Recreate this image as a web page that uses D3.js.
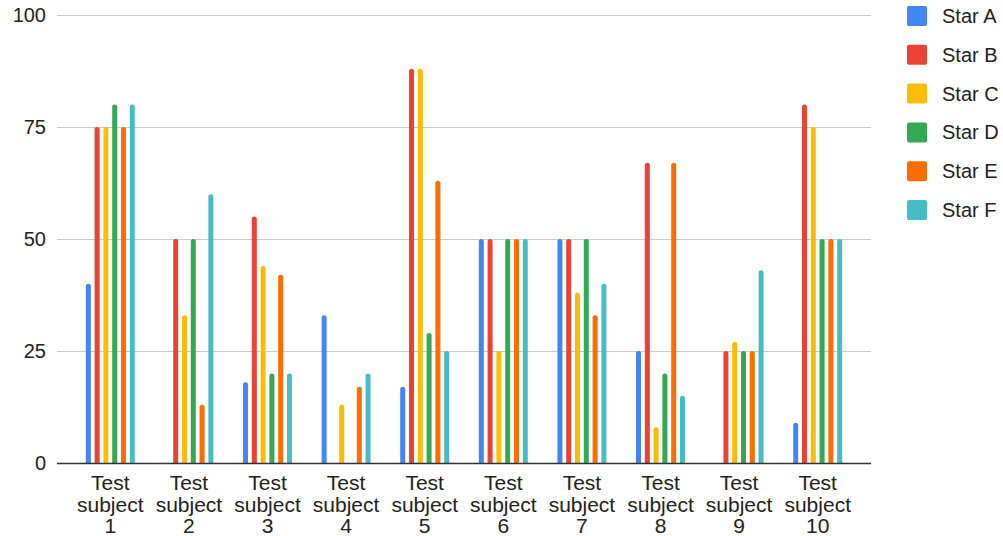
<!DOCTYPE html>
<html>
<head>
<meta charset="utf-8">
<script src="https://cdn.jsdelivr.net/npm/d3@7"></script>
<style>
  body { margin: 0; background: #fff; }
  text { font-family: Arial, "Liberation Sans", sans-serif; fill: #222; }
</style>
</head>
<body>
<div id="chart"></div>
<script>
const SUBJECTS = ['1', '2', '3', '4', '5', '6', '7', '8', '9', '10'];
const SERIES = ['Star A', 'Star B', 'Star C', 'Star D', 'Star E', 'Star F'];
const COLORS = ['#4285F4', '#EA4335', '#FBBC04', '#34A853', '#FF6D01', '#46BDC6'];
const Y_TICKS = [0, 25, 50, 75, 100];

// one array per star, one value per test subject
const STAR_A = [40, 0, 18, 33, 17, 50, 50, 25, 0, 9];
const STAR_B = [75, 50, 55, 0, 88, 50, 50, 67, 25, 80];
const STAR_C = [75, 33, 44, 13, 88, 25, 38, 8, 27, 75];
const STAR_D = [80, 50, 20, 0, 29, 50, 50, 20, 25, 50];
const STAR_E = [75, 13, 42, 17, 63, 50, 33, 67, 25, 50];
const STAR_F = [80, 60, 20, 20, 25, 50, 40, 15, 43, 50];
const VALUES = [STAR_A, STAR_B, STAR_C, STAR_D, STAR_E, STAR_F];

const W = 1003, H = 536;
const GRID_LEFT = 57, GRID_RIGHT = 871;
const TOP = 15, BASE = 463;

const svg = d3.select('#chart').append('svg')
  .attr('width', W).attr('height', H);

const y = d3.scaleLinear().domain([0, 100]).range([BASE, TOP]);

const x0 = d3.scaleBand().domain(SUBJECTS)
  .range([71, 857]).paddingInner(0.377).paddingOuter(0.1885);
const x1 = d3.scaleBand().domain(SERIES)
  .range([0, x0.bandwidth()]).paddingInner(0.43).paddingOuter(0);

// gridlines + y labels
const yAxis = svg.append('g');
yAxis.selectAll('line').data(Y_TICKS.filter(d => d > 0)).enter().append('line')
  .attr('x1', GRID_LEFT).attr('x2', GRID_RIGHT)
  .attr('y1', d => Math.round(y(d)) + 0.5).attr('y2', d => Math.round(y(d)) + 0.5)
  .attr('stroke', '#ccc').attr('stroke-width', 1);
yAxis.selectAll('text').data(Y_TICKS).enter().append('text')
  .attr('x', 46).attr('y', d => y(d))
  .attr('dy', '0.35em').attr('text-anchor', 'end')
  .attr('font-size', 20)
  .text(d => d);

// bars with rounded tops
function barPath(x, w, top, bottom) {
  const r = Math.min(w / 2, bottom - top);
  if (bottom - top <= 0) return '';
  return 'M' + x + ',' + bottom +
    'V' + (top + r) +
    'A' + r + ',' + r + ' 0 0 1 ' + (x + w) + ',' + (top + r) +
    'V' + bottom + 'Z';
}

const groups = svg.append('g').selectAll('g').data(SUBJECTS).enter().append('g')
  .attr('transform', d => 'translate(' + x0(d) + ',0)');

groups.selectAll('path')
  .data((d, i) => SERIES.map((s, j) => ({ s: s, v: VALUES[j][i], c: COLORS[j] })))
  .enter().append('path')
  .attr('fill', d => d.c)
  .attr('d', d => barPath(x1(d.s), x1.bandwidth(), y(d.v), BASE));

// baseline
svg.append('line')
  .attr('x1', GRID_LEFT).attr('x2', GRID_RIGHT)
  .attr('y1', BASE + 0.5).attr('y2', BASE + 0.5)
  .attr('stroke', '#333').attr('stroke-width', 1.5);

// x labels
const xl = svg.append('g').selectAll('text').data(SUBJECTS).enter().append('text')
  .attr('x', d => x0(d) + x0.bandwidth() / 2)
  .attr('text-anchor', 'middle')
  .attr('font-size', 21);
xl.append('tspan').attr('x', d => x0(d) + x0.bandwidth() / 2).attr('y', 490).text('Test');
xl.append('tspan').attr('x', d => x0(d) + x0.bandwidth() / 2).attr('y', 511.5).text('subject');
xl.append('tspan').attr('x', d => x0(d) + x0.bandwidth() / 2).attr('y', 533).text(d => d);

// legend
const legend = svg.append('g').selectAll('g').data(SERIES).enter().append('g')
  .attr('transform', (d, i) => 'translate(907,' + (16 + i * 38.8) + ')');
legend.append('rect')
  .attr('x', 0).attr('y', -10).attr('width', 20).attr('height', 20)
  .attr('rx', 2).attr('fill', (d, i) => COLORS[i]);
legend.append('text')
  .attr('x', 35).attr('y', 0).attr('dy', '0.35em')
  .attr('font-size', 20)
  .text(d => d);
</script>
</body>
</html>
